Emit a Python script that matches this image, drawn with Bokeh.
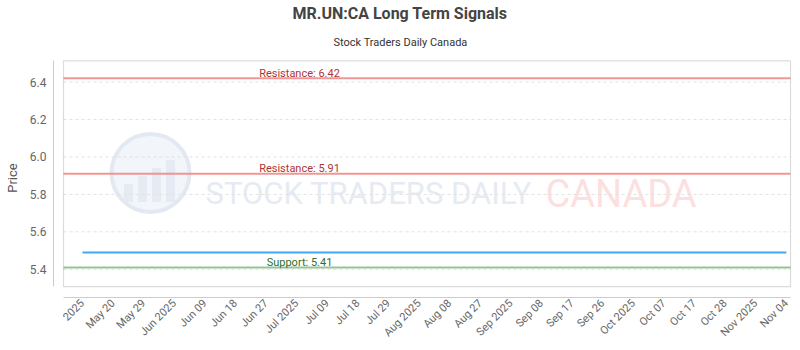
import math
from bokeh.plotting import figure
from bokeh.models import Range1d, FixedTicker, BoxAnnotation, Title
from bokeh.core.properties import value
from bokeh.embed import file_html
from bokeh.resources import INLINE

# ---------------- data ----------------
tick_labels = ["2025", "May 20", "May 29", "Jun 2025", "Jun 09", "Jun 18", "Jun 27",
               "Jul 2025", "Jul 09", "Jul 18", "Jul 29", "Aug 2025", "Aug 08", "Aug 27",
               "Sep 2025", "Sep 08", "Sep 17", "Sep 26", "Oct 2025", "Oct 07", "Oct 17",
               "Oct 28", "Nov 2025", "Nov 04"]
price = [5.49, 5.49, 5.49, 5.49, 5.49, 5.49, 5.49, 5.49, 5.49, 5.49, 5.49, 5.49,
         5.49, 5.49, 5.49, 5.49, 5.49, 5.49, 5.49, 5.49, 5.49, 5.49, 5.49, 5.49]
resistance_levels = [6.42, 5.91]
support_levels = [5.41]
y_ticks = [5.4, 5.6, 5.8, 6.0, 6.2, 6.4]

FONT = "Roboto"
x_idx = list(range(len(price)))

# ---------------- layout helpers (pixel -> data, for decoration only) ----------------
TICK0_PX, TICK_STEP_PX = 82.0, 30.6
Y64_PX, PX_PER_UNIT = 80.7, 188.0
def px2x(px):
    return (px - TICK0_PX) / TICK_STEP_PX
def px2y(py):
    return 6.4 - (py - Y64_PX) / PX_PER_UNIT

FRAME_L, FRAME_R, FRAME_T, FRAME_B = 53, 792, 57, 297
BOX_L, BOX_R, BOX_T, BOX_B = 63, 790, 59.3, 286

p = figure(width=800, height=350, output_backend="svg", toolbar_location=None,
           x_range=Range1d(px2x(FRAME_L), px2x(FRAME_R)),
           y_range=Range1d(px2y(FRAME_B), px2y(FRAME_T)),
           min_border_left=FRAME_L, min_border_right=800 - FRAME_R,
           min_border_top=FRAME_T, min_border_bottom=350 - FRAME_B,
           title=None)
p.outline_line_color = None
p.background_fill_color = "white"
p.border_fill_color = "white"
p.xgrid.visible = False
p.ygrid.visible = False

bl, br, bt, bb = px2x(BOX_L), px2x(BOX_R), px2y(BOX_T), px2y(BOX_B)

# titles (left-aligned with offsets so they centre on the canvas, not the frame)
sub = Title(text="Stock Traders Daily Canada", align="left", offset=280, standoff=20,
            text_font=FONT, text_font_size="11px", text_font_style="normal",
            text_color="#333333")
main = Title(text="MR.UN:CA Long Term Signals", align="left", offset=239, standoff=2,
             text_font=FONT, text_font_size="16px", text_font_style="bold",
             text_color="#444444")
p.add_layout(sub, "above")
p.add_layout(main, "above")

# watermark
p.scatter(x=[px2x(150)], y=[px2y(172)], size=78, marker="circle",
          fill_color="#f2f5fa", line_color="#e3e9f2", line_width=4)
p.rect(x=[px2x(x) for x in (128, 142, 156, 170)],
       y=[px2y(y) for y in (192, 188, 184, 180)],
       width=9, height=[18, 26, 34, 42], width_units="screen", height_units="screen",
       fill_color="#e6ebf3", line_color=None)
p.text(x=[px2x(205)], y=[px2y(193)], text=["STOCK TRADERS DAILY"],
       text_font=value(FONT), text_font_size="31px", text_color="#e6ebf3",
       text_baseline="alphabetic", text_align="left")
p.text(x=[px2x(545)], y=[px2y(193)], text=["CANADA"],
       text_font=value(FONT), text_font_size="38px", text_color="#fcdfdf",
       text_baseline="alphabetic", text_align="left")

# grid
p.segment(x0=bl, x1=br, y0=y_ticks, y1=y_ticks, line_color="#e2e2e2",
          line_width=1, line_dash="3 3")

# inner frame
p.add_layout(BoxAnnotation(left=bl, right=br, bottom=bb, top=bt, fill_alpha=0,
                           line_color="#8a8a8a", line_width=1.2, level="overlay"))

# resistance / support
p.segment(x0=bl, x1=br, y0=resistance_levels, y1=resistance_levels,
          line_color="#f08a8a", line_width=2, line_alpha=0.9)
p.segment(x0=bl, x1=br, y0=support_levels, y1=support_levels,
          line_color="#94c694", line_width=2)

# price
p.line(x=x_idx, y=price, line_color="#42a5f5", line_width=2)

lab_x = px2x(299)
p.text(x=[lab_x] * len(resistance_levels), y=resistance_levels,
       text=[f"Resistance: {v:.2f}" for v in resistance_levels],
       text_font=value(FONT), text_font_size="11px", text_color="#b03434",
       text_align="center", text_baseline="alphabetic", y_offset=-5)
p.text(x=[lab_x] * len(support_levels), y=support_levels,
       text=[f"Support: {v:.2f}" for v in support_levels],
       text_font=value(FONT), text_font_size="11px", text_color="#2f6f2f",
       text_align="center", text_baseline="alphabetic", y_offset=-5)

# axes
xa = p.xaxis[0]
xa.ticker = FixedTicker(ticks=x_idx)
xa.major_label_overrides = {i: t for i, t in enumerate(tick_labels)}
xa.major_label_orientation = math.pi / 4
xa.major_label_text_font = FONT
xa.major_label_text_font_size = "11px"
xa.major_label_text_color = "#666666"
xa.major_tick_line_color = None
xa.minor_tick_line_color = None
xa.major_tick_out = 0
xa.major_tick_in = 0
xa.major_label_standoff = 4
xa.axis_line_color = "#cccccc"
xa.bounds = (bl, br)

ya = p.yaxis[0]
ya.ticker = FixedTicker(ticks=y_ticks)
ya.major_label_overrides = {v: f"{v:.1f}" for v in y_ticks}
ya.major_label_text_font = FONT
ya.major_label_text_font_size = "12px"
ya.major_label_text_color = "#666666"
ya.major_tick_line_color = None
ya.minor_tick_line_color = None
ya.major_tick_out = 0
ya.major_tick_in = 0
ya.major_label_standoff = 7
ya.axis_line_color = "#cccccc"
ya.bounds = (bb, bt)
ya.axis_label = "Price"
ya.axis_label_text_font = FONT
ya.axis_label_text_font_size = "13px"
ya.axis_label_text_font_style = "normal"
ya.axis_label_text_color = "#555555"
ya.axis_label_standoff = 7

open("out.html", "w").write(file_html(p, INLINE))
